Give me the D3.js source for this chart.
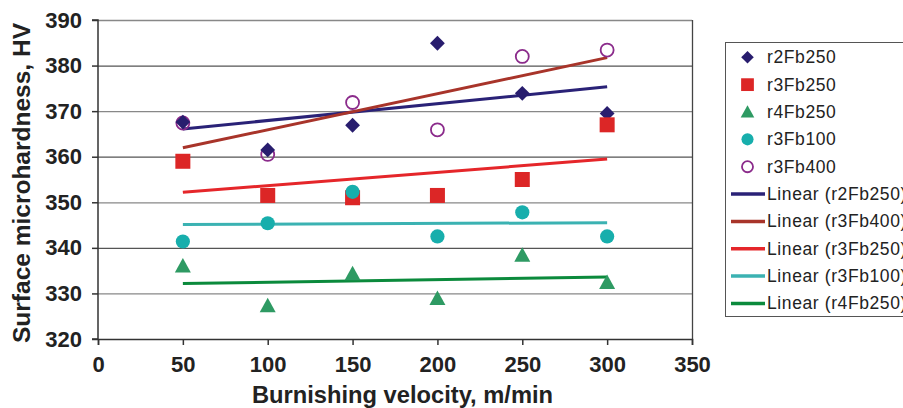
<!DOCTYPE html>
<html><head><meta charset="utf-8">
<script src="https://cdn.jsdelivr.net/npm/d3@7"></script>
<style>body{margin:0;background:#fff}svg{display:block;font-family:"Liberation Sans",Arial,sans-serif}</style>
</head><body><svg id="c" width="903" height="408"></svg>
<script>
const velocities = [50, 100, 150, 200, 250, 300];
const r2Fb250 = [367.6, 361.5, 366.9, 384.9, 373.9, 369.5];
const r3Fb250 = [359.0, 351.5, 351.0, 351.5, 355.0, 367.0];
const r4Fb250 = [336.0, 327.3, 334.3, 328.9, 338.4, 332.4];
const r3Fb100 = [341.4, 345.4, 352.3, 342.5, 347.8, 342.5];
const r3Fb400 = [367.4, 360.5, 371.9, 365.9, 382.0, 383.4];
const xTicks = [0, 50, 100, 150, 200, 250, 300, 350];
const yTicks = [320, 330, 340, 350, 360, 370, 380, 390];

const series = [
  {name:"r2Fb250", vals:r2Fb250, sym:"diamond", color:"#281d6e"},
  {name:"r3Fb250", vals:r3Fb250, sym:"square", color:"#dc2626"},
  {name:"r4Fb250", vals:r4Fb250, sym:"triangle", color:"#2e9a63"},
  {name:"r3Fb100", vals:r3Fb100, sym:"circle", color:"#17aeac"},
  {name:"r3Fb400", vals:r3Fb400, sym:"open", color:"#8b2b8b"}
];
const trends = [
  {name:"Linear (r2Fb250)", vals:r2Fb250, color:"#2a2277"},
  {name:"Linear (r3Fb400)", vals:r3Fb400, color:"#a8342a"},
  {name:"Linear (r3Fb250)", vals:r3Fb250, color:"#e5262a"},
  {name:"Linear (r3Fb100)", vals:r3Fb100, color:"#3bb2b2"},
  {name:"Linear (r4Fb250)", vals:r4Fb250, color:"#0b8a3c"}
];

const svg = d3.select("#c");
const L=98, R=692, T=20, B=339;
const x = d3.scaleLinear().domain([0,350]).range([L,R]);
const y = d3.scaleLinear().domain([320,390]).range([B,T]);

// grid
svg.append("g").selectAll("line").data(yTicks.slice(1)).join("line")
  .attr("x1",L).attr("x2",R).attr("y1",d=>y(d)+0.5).attr("y2",d=>y(d)+0.5)
  .attr("stroke",(d,i)=>i%2? "#555":"#888").attr("stroke-width",1.3);
svg.append("line").attr("x1",R+0.5).attr("x2",R+0.5).attr("y1",T).attr("y2",B).attr("stroke","#444").attr("stroke-width",1.3);

const ax = svg.append("g").attr("transform",`translate(0,${B})`)
  .call(d3.axisBottom(x).tickValues(xTicks).tickSize(6).tickPadding(11));
const ay = svg.append("g").attr("transform",`translate(${L},0)`)
  .call(d3.axisLeft(y).tickValues(yTicks).tickSize(6).tickPadding(10));
[ax,ay].forEach(g=>{
  g.selectAll("path,line").attr("stroke","#333").attr("stroke-width",1.5);
  g.selectAll("text").attr("font-size","22px").attr("font-weight","bold").attr("fill","#222")
   .attr("font-family","'Liberation Sans',Arial,sans-serif");
});
ay.select(".domain").attr("d",`M-6,${B}H0V${T}H-6`);

// trend lines
function fit(vals){
  const mx=d3.mean(velocities), my=d3.mean(vals);
  let sxy=0,sxx=0; velocities.forEach((v,i)=>{sxy+=(v-mx)*(vals[i]-my);sxx+=(v-mx)*(v-mx);});
  const b=sxy/sxx; return v=>my+b*(v-mx);
}
const x0=d3.min(velocities), x1=d3.max(velocities);
trends.forEach(t=>{
  const f=fit(t.vals);
  svg.append("line").attr("x1",x(x0)).attr("x2",x(x1)).attr("y1",y(f(x0))).attr("y2",y(f(x1)))
    .attr("stroke",t.color).attr("stroke-width",3);
});

function drawSym(g,sym,color,cx,cy,k){
  k=k||1;
  if(sym==="diamond") g.append("path").attr("d",`M${cx},${cy-7.4*k}L${cx+7.4*k},${cy}L${cx},${cy+7.4*k}L${cx-7.4*k},${cy}Z`).attr("fill",color);
  else if(sym==="square") g.append("rect").attr("x",cx-7.5*k).attr("y",cy-7.5*k).attr("width",15*k).attr("height",15*k).attr("fill",color);
  else if(sym==="triangle") g.append("path").attr("d",`M${cx},${cy-8*k}L${cx+8*k},${cy+6.5*k}L${cx-8*k},${cy+6.5*k}Z`).attr("fill",color);
  else if(sym==="circle") g.append("circle").attr("cx",cx).attr("cy",cy).attr("r",7.1*k).attr("fill",color);
  else g.append("circle").attr("cx",cx).attr("cy",cy).attr("r",6.5*k).attr("fill","none").attr("stroke",color).attr("stroke-width",1.8);
}
const order=[4,0,1,2,3];
order.forEach(si=>{
  const s=series[si]; const g=svg.append("g");
  s.vals.forEach((v,i)=>drawSym(g,s.sym,s.color,x(velocities[i]),y(v)));
});

// axis titles
svg.append("text").attr("x",252).attr("y",403).attr("textLength",301).attr("lengthAdjust","spacingAndGlyphs")
  .attr("font-size","24px").attr("font-weight","bold").attr("fill","#222").text("Burnishing velocity, m/min");
svg.append("text").attr("transform",`translate(30,343) rotate(-90)`).attr("textLength",320).attr("lengthAdjust","spacingAndGlyphs")
  .attr("font-size","23px").attr("font-weight","bold").attr("fill","#222").text("Surface microhardness, HV");

// legend
const lg=svg.append("g");
lg.append("rect").attr("x",725.5).attr("y",42.5).attr("width",200).attr("height",274).attr("fill","#fff").attr("stroke","#555").attr("stroke-width",1);
const ly0=57.3, step=27.35;
series.forEach((s,i)=>{
  const cy=ly0+i*step;
  drawSym(lg,s.sym,s.color,747.5,cy,0.85);
  lg.append("text").attr("x",767).attr("y",cy+6).attr("font-size","17.5px").attr("letter-spacing","0.6px").attr("fill","#222").text(s.name);
});
trends.forEach((t,i)=>{
  const cy=ly0+(i+5)*step;
  lg.append("line").attr("x1",731).attr("x2",765).attr("y1",cy).attr("y2",cy).attr("stroke",t.color).attr("stroke-width",3.5);
  lg.append("text").attr("x",767).attr("y",cy+6).attr("font-size","17.5px").attr("letter-spacing","0.6px").attr("fill","#222").text(t.name);
});
</script></body></html>
